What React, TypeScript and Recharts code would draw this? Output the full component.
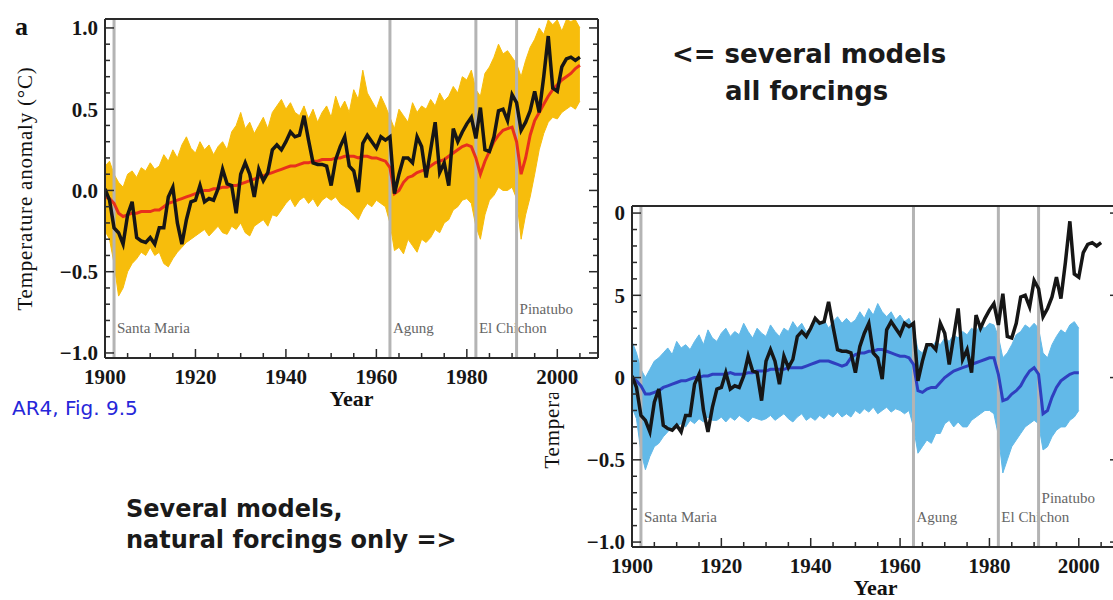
import React from "react";
import { ComposedChart, Area, Line, XAxis, YAxis, ReferenceLine } from "recharts";

const FIRST_YEAR = 1900;

// observed global mean temperature anomaly (black), 1900-2005
const OBS = [
  0.01, -0.06, -0.23, -0.26, -0.33,
  -0.15, -0.07, -0.29, -0.31, -0.32,
  -0.29, -0.33, -0.23, -0.23, -0.04,
  0.02, -0.2, -0.33, -0.18, -0.07,
  -0.06, 0.03, -0.07, -0.05, -0.06,
  0.01, 0.13, 0.04, 0.03, -0.14,
  0.1, 0.17, 0.1, -0.04, 0.13,
  0.06, 0.11, 0.25, 0.28, 0.25,
  0.3, 0.36, 0.33, 0.34, 0.46,
  0.31, 0.17, 0.16, 0.16, 0.15,
  0.03, 0.19, 0.27, 0.33, 0.15,
  0.12, -0.01, 0.29, 0.34, 0.3,
  0.26, 0.33, 0.31, 0.33, -0.02,
  0.1, 0.2, 0.2, 0.17, 0.33,
  0.27, 0.08, 0.25, 0.42, 0.11,
  0.17, 0.03, 0.38, 0.3, 0.36,
  0.41, 0.45, 0.32, 0.51, 0.25,
  0.24, 0.33, 0.49, 0.5, 0.43,
  0.59, 0.54, 0.37, 0.42, 0.49,
  0.61, 0.48, 0.7, 0.95, 0.63,
  0.61, 0.76, 0.81, 0.82, 0.8,
  0.82,
];

// all forcings: ensemble mean (red) and spread (yellow), 1900-2005
const ALL_MEAN = [
  -0.04, -0.05, -0.08, -0.14, -0.16,
  -0.15, -0.14, -0.14, -0.13, -0.13,
  -0.13, -0.12, -0.12, -0.1, -0.08,
  -0.07, -0.06, -0.05, -0.04, -0.03,
  -0.02, -0.01, 0.0, 0.0, 0.01,
  0.01, 0.02, 0.02, 0.03, 0.03,
  0.04, 0.05, 0.06, 0.07, 0.08,
  0.09, 0.1, 0.11, 0.12, 0.13,
  0.14, 0.15, 0.15, 0.16, 0.17,
  0.17, 0.18, 0.18, 0.19, 0.19,
  0.19, 0.2, 0.2, 0.21, 0.21,
  0.21, 0.2, 0.21, 0.21, 0.2,
  0.2, 0.19, 0.18, 0.14, -0.02,
  0.0, 0.05, 0.08, 0.09, 0.11,
  0.12, 0.13, 0.15, 0.17, 0.18,
  0.19, 0.21, 0.23, 0.25, 0.27,
  0.28, 0.27, 0.2, 0.1, 0.18,
  0.24, 0.3, 0.34, 0.37, 0.38,
  0.39, 0.3, 0.1, 0.2, 0.34,
  0.43, 0.48, 0.53, 0.58, 0.62,
  0.65, 0.68, 0.7, 0.72, 0.75,
  0.77,
];

const ALL_HI = [
  0.15, 0.18, 0.1, 0.05, 0.02,
  0.1, 0.12, 0.08, 0.14, 0.12,
  0.17, 0.13, 0.15, 0.22, 0.18,
  0.25, 0.2, 0.28, 0.33, 0.26,
  0.23, 0.3, 0.25, 0.28, 0.22,
  0.27, 0.3, 0.25, 0.36, 0.4,
  0.48, 0.38, 0.42, 0.35, 0.4,
  0.45, 0.38, 0.48, 0.52, 0.56,
  0.5, 0.54, 0.48, 0.46, 0.52,
  0.44, 0.5, 0.42, 0.48, 0.52,
  0.45, 0.58, 0.5, 0.55, 0.48,
  0.62, 0.56, 0.74, 0.6, 0.55,
  0.5, 0.58, 0.52, 0.45, 0.38,
  0.5, 0.46, 0.42, 0.54, 0.48,
  0.52, 0.5, 0.56, 0.52, 0.6,
  0.55, 0.58, 0.64, 0.6, 0.7,
  0.68, 0.74, 0.62, 0.58, 0.72,
  0.76, 0.82, 0.9, 0.84, 0.86,
  0.82, 0.78, 0.7, 0.8, 0.88,
  0.93, 1.0, 0.96, 1.05, 1.02,
  1.05, 0.98, 1.05, 1.04, 1.05,
  1.0,
];

const ALL_LO = [
  -0.25, -0.3, -0.45, -0.65, -0.6,
  -0.5, -0.45, -0.42, -0.38, -0.4,
  -0.35, -0.4, -0.38, -0.45, -0.47,
  -0.42, -0.38, -0.35, -0.32, -0.3,
  -0.28, -0.26, -0.24, -0.28, -0.25,
  -0.22, -0.26, -0.27, -0.22, -0.24,
  -0.2, -0.26, -0.28, -0.22, -0.2,
  -0.18, -0.22, -0.15, -0.16, -0.12,
  -0.08, -0.05, -0.1, -0.06, -0.04,
  -0.08, -0.05, -0.1, -0.06, -0.04,
  -0.06, -0.04, -0.08, -0.1, -0.12,
  -0.15, -0.18, -0.12, -0.08, -0.1,
  -0.06, -0.08, -0.1, -0.2, -0.37,
  -0.35, -0.39, -0.3, -0.34, -0.38,
  -0.3, -0.32, -0.29, -0.24, -0.26,
  -0.2, -0.18, -0.12, -0.1, -0.06,
  -0.05, -0.08, -0.22, -0.3, -0.15,
  -0.06, -0.03, 0.02, 0.0, 0.0,
  0.02, -0.05, -0.3, -0.15, -0.04,
  0.1, 0.25, 0.35, 0.42, 0.45,
  0.44, 0.48, 0.5, 0.52, 0.5,
  0.55,
];

// natural forcings only: ensemble mean (dark blue) and spread (light blue), 1900-2000
const NAT_MEAN = [
  0.0, -0.02, -0.05, -0.1, -0.1,
  -0.09, -0.08, -0.06, -0.05, -0.04,
  -0.03, -0.02, -0.02, -0.01, 0.0,
  0.0, 0.01, 0.01, 0.02, 0.02,
  0.02, 0.02, 0.03, 0.02, 0.02,
  0.02, 0.03, 0.03, 0.04, 0.04,
  0.04, 0.05, 0.05, 0.05, 0.05,
  0.06, 0.06, 0.06, 0.06, 0.07,
  0.08, 0.09, 0.1, 0.1, 0.1,
  0.09, 0.08, 0.07, 0.08, 0.12,
  0.14, 0.15, 0.15, 0.16, 0.16,
  0.17, 0.17, 0.16, 0.15, 0.14,
  0.13, 0.13, 0.12, 0.08, -0.08,
  -0.09, -0.07, -0.06, -0.06, -0.03,
  0.0, 0.02, 0.04, 0.05, 0.06,
  0.07, 0.08, 0.09, 0.1, 0.11,
  0.12, 0.12, 0.02, -0.14, -0.13,
  -0.1, -0.08, -0.05, 0.0, 0.04,
  0.06, 0.02, -0.22, -0.2, -0.12,
  -0.06, -0.02, 0.0, 0.02, 0.03,
  0.03,
];

const NAT_HI = [
  0.22, 0.15, 0.05, 0.0, 0.05,
  0.1, 0.12, 0.15, 0.18, 0.14,
  0.22, 0.18, 0.2, 0.17, 0.22,
  0.26, 0.2, 0.29, 0.24, 0.22,
  0.27, 0.3, 0.25, 0.28, 0.26,
  0.33, 0.28, 0.24, 0.3, 0.27,
  0.25, 0.32, 0.28, 0.25, 0.3,
  0.28, 0.34, 0.3, 0.33, 0.28,
  0.3, 0.36, 0.32, 0.35, 0.3,
  0.34, 0.37, 0.33, 0.36, 0.33,
  0.35, 0.4, 0.36, 0.42, 0.38,
  0.45, 0.4, 0.37, 0.4, 0.35,
  0.38, 0.34, 0.36, 0.3, 0.17,
  0.15, 0.2, 0.18, 0.22, 0.2,
  0.24, 0.22, 0.26, 0.24, 0.28,
  0.26, 0.3, 0.28, 0.32, 0.3,
  0.33, 0.32, 0.25, 0.12, 0.15,
  0.2, 0.26, 0.28, 0.32, 0.3,
  0.33, 0.3, 0.15, 0.12, 0.2,
  0.25, 0.29, 0.27, 0.32, 0.34,
  0.3,
];

const NAT_LO = [
  -0.18, -0.25, -0.45, -0.56, -0.48,
  -0.42, -0.4, -0.36, -0.33, -0.3,
  -0.3, -0.28, -0.3, -0.26, -0.28,
  -0.25, -0.27, -0.24, -0.26, -0.26,
  -0.24, -0.27, -0.24, -0.26, -0.23,
  -0.25, -0.27, -0.24, -0.25, -0.26,
  -0.25, -0.23, -0.26, -0.24, -0.22,
  -0.25, -0.27, -0.24, -0.22, -0.26,
  -0.24, -0.26, -0.23, -0.25, -0.22,
  -0.24, -0.21, -0.24, -0.22, -0.24,
  -0.2, -0.22, -0.19, -0.21, -0.18,
  -0.22, -0.2, -0.18, -0.21, -0.19,
  -0.2, -0.22, -0.2, -0.3, -0.46,
  -0.42, -0.38, -0.4, -0.34, -0.34,
  -0.28, -0.26, -0.3, -0.27, -0.3,
  -0.3, -0.26, -0.24, -0.22, -0.2,
  -0.2, -0.22, -0.35, -0.58, -0.5,
  -0.42, -0.38, -0.34, -0.3, -0.28,
  -0.26, -0.28, -0.44, -0.42, -0.36,
  -0.32, -0.3, -0.3, -0.26, -0.24,
  -0.2,
];

const VOLCANO_NAMES = ["Santa Maria", "Agung", "El Chichon", "Pinatubo"];
const VOLCANO_YEARS = [1902, 1963, 1982, 1991];

const X_TICKS = [
  1900, 1905, 1910, 1915, 1920, 1925, 1930, 1935, 1940, 1945, 1950,
  1955, 1960, 1965, 1970, 1975, 1980, 1985, 1990, 1995, 2000, 2005,
];
const X_LABELS = [1900, 1920, 1940, 1960, 1980, 2000];
const Y_TICKS = [
  -1, -0.9, -0.8, -0.7, -0.6, -0.5, -0.4, -0.3, -0.2, -0.1, 0,
  0.1, 0.2, 0.3, 0.4, 0.5, 0.6, 0.7, 0.8, 0.9, 1,
];
const Y_LABELS = [-1, -0.5, 0, 0.5, 1];

const SERIF = '"Liberation Serif", "Times New Roman", serif';
const SANS = '"DejaVu Sans", Arial, sans-serif';
const INK = "#2a2a2a";

const allRows = OBS.map((obs, i) => ({
  year: FIRST_YEAR + i,
  obs,
  mean: ALL_MEAN[i],
  band: [ALL_LO[i], ALL_HI[i]],
}));

const natRows = OBS.map((obs, i) => ({
  year: FIRST_YEAR + i,
  obs,
  mean: i < NAT_MEAN.length ? NAT_MEAN[i] : null,
  band: i < NAT_LO.length ? [NAT_LO[i], NAT_HI[i]] : null,
}));

const near = (list: number[], v: number) => list.some((l) => Math.abs(l - v) < 1e-6);
const fmt = (v: number) => (v < -1e-9 ? "\u2212" : "") + Math.abs(v).toFixed(1);

function xTick(side: "bottom" | "top", withLabels: boolean) {
  return (props: any) => {
    const { x, y, payload } = props;
    const v = payload.value;
    const len = near(X_LABELS, v) ? 9 : 5;
    const dir = side === "bottom" ? -1 : 1;
    return (
      <g>
        <line x1={x} x2={x} y1={y} y2={y + dir * len} stroke={INK} strokeWidth={1.5} />
        {withLabels && near(X_LABELS, v) && (
          <text
            x={x}
            y={y + 26}
            textAnchor="middle"
            fontFamily={SERIF}
            fontWeight="bold"
            fontSize={21}
            fill="#161616"
          >
            {v}
          </text>
        )}
      </g>
    );
  };
}

function yTick(side: "left" | "right", withLabels: boolean) {
  return (props: any) => {
    const { x, y, payload } = props;
    const v = payload.value;
    const len = near(Y_LABELS, v) ? 9 : 5;
    const dir = side === "left" ? 1 : -1;
    return (
      <g>
        <line x1={x} x2={x + dir * len} y1={y} y2={y} stroke={INK} strokeWidth={1.5} />
        {withLabels && near(Y_LABELS, v) && (
          <text
            x={x - 7}
            y={y}
            dy="0.35em"
            textAnchor="end"
            fontFamily={SERIF}
            fontWeight="bold"
            fontSize={21}
            fill="#161616"
          >
            {fmt(v)}
          </text>
        )}
      </g>
    );
  };
}

const volcanoLabel = (name: string) => (props: any) => {
  const vb = props.viewBox;
  const lift = name === "Pinatubo" ? 44 : 25;
  return (
    <text x={vb.x + 3} y={vb.y + vb.height - lift} fontFamily={SERIF} fontSize={15} fill="#666">
      {name}
    </text>
  );
};

interface PanelProps {
  rows: any[];
  width: number;
  height: number;
  margin: { top: number; right: number; bottom: number; left: number };
  yDomain: [number, number];
  bandColor: string;
  meanColor: string;
  labelShift?: number;
  letter?: string;
}

function Panel({ rows, width, height, margin, yDomain, bandColor, meanColor, labelShift = 0, letter }: PanelProps) {
  const left = margin.left + 1;
  const top = margin.top + 1;
  const right = width - margin.right - 1;
  const bottom = height - margin.bottom - 1;
  const frame = { stroke: INK, strokeWidth: 2 };
  const ly = (top + bottom) / 2 + labelShift;
  return (
    <div style={{ position: "relative", width, height }}>
      <ComposedChart width={width} height={height} data={rows} margin={margin}>
        <XAxis
          dataKey="year"
          type="number"
          domain={[1900, 2009]}
          allowDataOverflow
          ticks={X_TICKS}
          interval={0}
          height={1}
          tickSize={0}
          tickMargin={0}
          tickLine={false}
          axisLine={frame}
          tick={xTick("bottom", true)}
        />
        <XAxis
          xAxisId="top"
          orientation="top"
          type="number"
          domain={[1900, 2009]}
          allowDataOverflow
          ticks={X_TICKS}
          interval={0}
          height={1}
          tickSize={0}
          tickMargin={0}
          tickLine={false}
          axisLine={frame}
          tick={xTick("top", false)}
        />
        <YAxis
          type="number"
          domain={yDomain}
          allowDataOverflow
          ticks={Y_TICKS}
          interval={0}
          width={1}
          tickSize={0}
          tickMargin={0}
          tickLine={false}
          axisLine={frame}
          tick={yTick("left", true)}
        />
        <YAxis
          yAxisId="right"
          orientation="right"
          type="number"
          domain={yDomain}
          allowDataOverflow
          ticks={Y_TICKS}
          interval={0}
          width={1}
          tickSize={0}
          tickMargin={0}
          tickLine={false}
          axisLine={frame}
          tick={yTick("right", false)}
        />
        {VOLCANO_YEARS.map((yr, i) => (
          <ReferenceLine
            key={yr}
            x={yr}
            stroke="#b4b4b4"
            strokeWidth={3}
            label={volcanoLabel(VOLCANO_NAMES[i])}
          />
        ))}
        <Area
          type="linear"
          dataKey="band"
          stroke={bandColor}
          strokeWidth={1}
          fill={bandColor}
          fillOpacity={1}
          isAnimationActive={false}
        />
        <Line
          type="linear"
          dataKey="mean"
          stroke={meanColor}
          strokeWidth={3}
          dot={false}
          isAnimationActive={false}
        />
        <Line
          type="linear"
          dataKey="obs"
          stroke="#161616"
          strokeWidth={3.5}
          dot={false}
          isAnimationActive={false}
        />
      </ComposedChart>
      <svg
        width={width}
        height={height}
        style={{ position: "absolute", left: 0, top: 0, pointerEvents: "none" }}
      >
        <text
          x={left - 80}
          y={ly}
          transform={`rotate(-90 ${left - 80} ${ly})`}
          textAnchor="middle"
          dominantBaseline="central"
          fontFamily={SERIF}
          fontSize={21}
          letterSpacing={0.8}
          fill="#111"
        >
          Temperature anomaly (°C)
        </text>
        <text
          x={(left + right) / 2}
          y={bottom + 48}
          textAnchor="middle"
          fontFamily={SERIF}
          fontWeight="bold"
          fontSize={22}
          fill="#111"
        >
          Year
        </text>
        {letter && (
          <text x={15} y={35} fontFamily={SERIF} fontWeight="bold" fontSize={26} fill="#111">
            {letter}
          </text>
        )}
      </svg>
    </div>
  );
}

export default function App() {
  return (
    <div
      style={{
        position: "absolute",
        left: 0,
        top: 0,
        width: 1113,
        height: 600,
        overflow: "hidden",
        background: "#fff",
      }}
    >
      <div style={{ position: "absolute", left: 540, top: 190, zIndex: 1 }}>
        <Panel
          rows={natRows}
          width={590}
          height={410}
          margin={{ top: 15, right: 10, bottom: 52, left: 91 }}
          yDomain={[-1.03, 1.043]}
          bandColor="#62b9e8"
          meanColor="#2f3fbf"
          labelShift={-30}
        />
      </div>
      <div style={{ position: "absolute", left: 0, top: 0, width: 614, height: 393, zIndex: 2 }}>
        <div
          style={{ position: "absolute", left: 0, top: 0, width: 614, height: 393, background: "#fff" }}
        />
        <div style={{ position: "absolute", left: 0, top: 0 }}>
          <Panel
            rows={allRows}
            width={614}
            height={420}
            margin={{ top: 18, right: 15, bottom: 61, left: 104 }}
            yDomain={[-1.031, 1.055]}
            bandColor="#f7bd0c"
            meanColor="#e8301c"
            letter="a"
          />
        </div>
      </div>
      <svg
        width={1113}
        height={600}
        style={{ position: "absolute", left: 0, top: 0, zIndex: 3, pointerEvents: "none" }}
      >
        <text x={672} y={63} fontFamily={SANS} fontWeight="bold" fontSize={26} fill="#1a1a1a">
          {"<= several models"}
        </text>
        <text x={725} y={100} fontFamily={SANS} fontWeight="bold" fontSize={26} fill="#1a1a1a">
          all forcings
        </text>
        <text x={12} y={415} fontFamily={SANS} fontSize={20} fill="#2626d9">
          AR4, Fig. 9.5
        </text>
        <text x={126} y={517} fontFamily={SANS} fontWeight="bold" fontSize={24} fill="#1a1a1a">
          Several models,
        </text>
        <text x={126} y={548} fontFamily={SANS} fontWeight="bold" fontSize={24} fill="#1a1a1a">
          {"natural forcings only =>"}
        </text>
      </svg>
    </div>
  );
}
